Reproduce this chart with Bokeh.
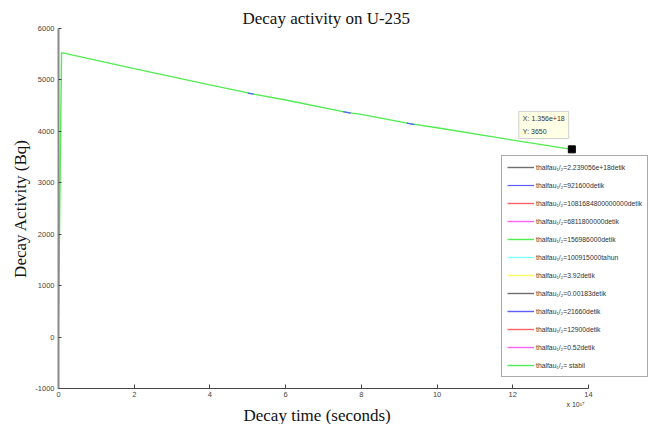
from bokeh.plotting import figure
from bokeh.models import Range1d, Legend, LegendItem, Label, FixedTicker, Title
from bokeh.embed import file_html
from bokeh.resources import INLINE

# ---------------- data ----------------
title_text = "Decay activity on U-235"
x_label_text = "Decay time (seconds)"
y_label_text = "Decay Activity (Bq)"
x_scale_text = "x 10\u00b9\u2077"

# visible curve (time in seconds, activity in Bq)
curve_x = [0.0, 0.08e17, 2e17, 4e17, 5.19e17, 6e17, 7.61e17, 8e17, 9.28e17, 10e17, 12e17, 13.56e17]
curve_y = [370, 5530, 5220, 4905, 4720, 4610, 4370, 4330, 4150, 4070, 3830, 3650]

# short blue pieces visible on the curve
NAN = float("nan")
blue_x = [5.0e17, 5.15e17, NAN, 7.52e17, 7.72e17, NAN, 9.2e17, 9.4e17]
blue_y = [4745, 4725, NAN, 4385, 4356, NAN, 4160, 4132]

# series that are not visible in the plot area (legend only)
hidden_x = [NAN]
hidden_y = [NAN]

# data cursor
cursor_x = [13.56e17]
cursor_y = [3650]
cursor_text = "X: 1.356e+18\nY: 3650"

legend_labels = [
    "thalfau\u2081/\u2082=2.239056e+18detik",
    "thalfau\u2081/\u2082=921600detik",
    "thalfau\u2081/\u2082=1081684800000000detik",
    "thalfau\u2081/\u2082=6811800000detik",
    "thalfau\u2081/\u2082=156986000detik",
    "thalfau\u2081/\u2082=100915000tahun",
    "thalfau\u2081/\u2082=3.92detik",
    "thalfau\u2081/\u2082=0.00183detik",
    "thalfau\u2081/\u2082=21660detik",
    "thalfau\u2081/\u2082=12900detik",
    "thalfau\u2081/\u2082=0.52detik",
    "thalfau\u2081/\u2082= stabil",
]
legend_colors = ["#6e6e6e", "#5c5cff", "#ff6464", "#ff64ff", "#50ec50", "#7fffff",
                 "#ffff66", "#6e6e6e", "#5c5cff", "#ff6464", "#ff64ff", "#50ec50"]

x_min, x_max = 0, 14e17
y_min, y_max = -1000, 6000
x_tick_vals = [0, 2e17, 4e17, 6e17, 8e17, 10e17, 12e17, 14e17]
x_tick_labels = ["0", "2", "4", "6", "8", "10", "12", "14"]
y_tick_vals = [-1000, 0, 1000, 2000, 3000, 4000, 5000, 6000]
y_tick_labels = ["-1000", "0", "1000", "2000", "3000", "4000", "5000", "6000"]

# ---------------- layout (pixels) ----------------
W, H = 659, 424
frame_left, frame_top, frame_bottom = 58, 28, 388
axis_end_px = 588        # where x = 14e17 sits
frame_right = 651        # frame extended so the legend fits inside it
x_range_end = x_max * (frame_right - frame_left) / (axis_end_px - frame_left)

p = figure(width=W, height=H, output_backend="svg", toolbar_location=None,
           x_range=Range1d(x_min, x_range_end), y_range=Range1d(y_min, y_max),
           min_border_left=frame_left, min_border_right=W - frame_right,
           min_border_top=frame_top, min_border_bottom=H - frame_bottom)
p.outline_line_color = None
p.grid.visible = False
p.background_fill_color = "white"
p.border_fill_color = "white"

serif = "Liberation Serif"
p.title.text = title_text
p.title.align = "left"
p.title.offset = 184
p.title.text_font = serif
p.title.text_font_size = "17px"
p.title.text_font_style = "normal"
p.title.text_color = "#111111"
p.title.standoff = 1

p.xaxis.ticker = FixedTicker(ticks=x_tick_vals)
p.xaxis.major_label_overrides = dict(zip(x_tick_vals, x_tick_labels))
p.xaxis.bounds = (x_min, x_max)
p.yaxis.ticker = FixedTicker(ticks=y_tick_vals)
p.yaxis.major_label_overrides = dict(zip(y_tick_vals, y_tick_labels))
for ax in (p.xaxis, p.yaxis):
    ax.minor_tick_line_color = None
    ax.major_tick_out = 0
    ax.major_label_text_font = "Liberation Sans"
    ax.major_label_text_font_size = "7.5px"
    ax.major_label_text_color = "#444444"
    ax.major_tick_line_color = "#444444"
    ax.major_label_standoff = 4
    ax.axis_label_text_font = serif
    ax.axis_label_text_font_size = "17px"
    ax.axis_label_text_font_style = "normal"
    ax.axis_label_text_color = "#111111"
p.yaxis.major_tick_in = 3
p.xaxis.major_tick_in = 4
p.yaxis.axis_line_color = "#8a8a8a"
p.yaxis.axis_line_width = 2
p.xaxis.axis_line_color = "#444444"
p.yaxis.axis_label = y_label_text
p.yaxis.axis_label_standoff = 2
p.xaxis.major_label_standoff = 3

# exponent note and x-axis title under the axis
exp_title = Title(text=x_scale_text, align="left", offset=566 - frame_left,
                  text_font="Liberation Sans", text_font_size="7px", text_font_style="normal",
                  text_color="#333333", vertical_align="top", standoff=2)
p.add_layout(exp_title, "below")
x_title = Title(text=x_label_text, align="left", offset=243 - frame_left,
                text_font=serif, text_font_size="17px", text_font_style="normal",
                text_color="#111111", vertical_align="top", standoff=-9)
p.add_layout(x_title, "below")

lw = 1.4
renderers = []
for i, (lab, col) in enumerate(zip(legend_labels, legend_colors)):
    if i == len(legend_labels) - 1:
        r = p.line(curve_x, curve_y, line_color=col, line_width=lw)
    elif i == 1:
        r = p.line(blue_x, blue_y, line_color=col, line_width=1.2)
    else:
        r = p.line(hidden_x, hidden_y, line_color=col, line_width=lw)
    renderers.append(r)
# blue pieces drawn above the green curve
p.renderers.remove(renderers[1])
p.renderers.append(renderers[1])

p.scatter(cursor_x, cursor_y, marker="square", size=7, color="black")

legend = Legend(items=[LegendItem(label=l, renderers=[r]) for l, r in zip(legend_labels, renderers)],
                location=(501 - frame_left, frame_bottom - 377))
legend.label_text_font = "Liberation Sans"
legend.label_text_font_size = "6.8px"
legend.label_text_color = "#333333"
legend.glyph_width = 27
legend.glyph_height = 12
legend.label_height = 12
legend.spacing = 6
legend.padding = 5
legend.margin = 0
legend.label_standoff = 2
legend.border_line_color = "#555555"
legend.border_line_width = 1
legend.background_fill_color = "white"
legend.background_fill_alpha = 1
p.add_layout(legend, "center")

# data cursor tooltip
tip = Label(x=cursor_x[0], y=cursor_y[0], text=cursor_text, x_offset=-53, y_offset=38,
            text_font="Liberation Sans", text_font_size="7px", text_color="#333333",
            text_line_height=1.75, padding=4,
            background_fill_color="#ffffe6", border_line_color="#cfcfcf",
            text_align="left", text_baseline="top")
p.add_layout(tip)

open("out.html", "w").write(file_html(p, INLINE))
